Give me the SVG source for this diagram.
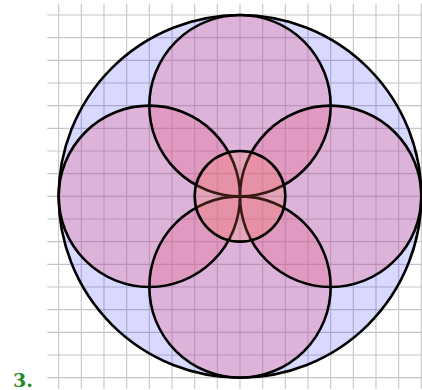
<svg xmlns="http://www.w3.org/2000/svg" width="422" height="390" viewBox="0 0 422 390">
<style>
.grid{stroke:#c6c6c6;stroke-width:1.1;fill:none}
.edge{fill:none;stroke:#000;stroke-width:2.6}
.big{fill:#0000ff;fill-opacity:0.15}
.mid{fill:#e5658b;fill-opacity:0.32}
.small{fill:#ff7548;fill-opacity:0.22}
.lbl{font-family:"DejaVu Serif","Liberation Serif",serif;font-weight:bold;font-size:19px;fill:#1f8a1f}
</style>
<rect width="422" height="390" fill="#fff"/>
<g id="grid">
<path class="grid" d="M58.67 3.6V389M81.33 3.6V389M104 3.6V389M126.67 3.6V389M149.33 3.6V389M172 3.6V389M194.67 3.6V389M217.33 3.6V389M240 3.6V389M262.67 3.6V389M285.33 3.6V389M308 3.6V389M330.67 3.6V389M353.33 3.6V389M376 3.6V389M398.67 3.6V389M421.33 3.6V389"/>
<path class="grid" d="M47.3 15H422M47.3 37.67H422M47.3 60.33H422M47.3 83H422M47.3 105.67H422M47.3 128.33H422M47.3 151H422M47.3 173.67H422M47.3 196.33H422M47.3 219H422M47.3 241.67H422M47.3 264.33H422M47.3 287H422M47.3 309.67H422M47.3 332.33H422M47.3 355H422M47.3 377.67H422"/>
</g>
<g id="big-circle">
<circle class="big" cx="240" cy="196.33" r="181.33"/>
<circle class="edge" cx="240" cy="196.33" r="181.33"/>
</g>
<g id="medium-circles">
<g id="top"><circle class="mid" cx="240" cy="105.67" r="90.67"/></g>
<g id="left"><circle class="mid" cx="149.33" cy="196.33" r="90.67"/></g>
<g id="right"><circle class="mid" cx="330.67" cy="196.33" r="90.67"/></g>
<g id="bottom"><circle class="mid" cx="240" cy="287" r="90.67"/></g>
<circle class="edge" cx="240" cy="105.67" r="90.67"/>
<circle class="edge" cx="149.33" cy="196.33" r="90.67"/>
<circle class="edge" cx="330.67" cy="196.33" r="90.67"/>
<circle class="edge" cx="240" cy="287" r="90.67"/>
</g>
<g id="small-circle">
<circle class="small" cx="240" cy="196.33" r="45.33"/>
<circle class="edge" cx="240" cy="196.33" r="45.33"/>
</g>
<text class="lbl" x="13" y="387">3.</text>
</svg>
